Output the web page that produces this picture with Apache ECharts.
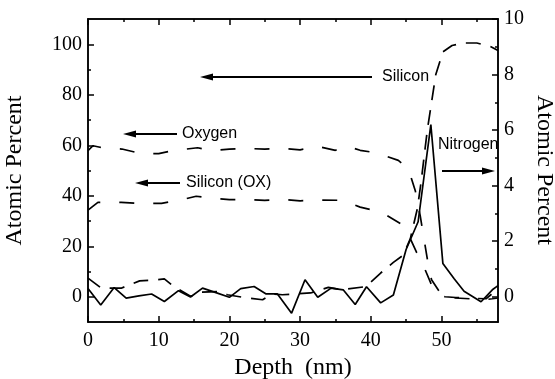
<!DOCTYPE html>
<html><head><meta charset="utf-8">
<script src="https://cdn.jsdelivr.net/npm/echarts@6/dist/echarts.min.js"></script>
<style>html,body{margin:0;padding:0;background:#fff}#c{width:555px;height:379px}</style>
</head><body><div id="c"></div>
<script>
// ---- data ----
const depthTicks = [0, 10, 20, 30, 40, 50];
const depthMinor = [5, 15, 25, 35, 45, 55];
const leftTicks = [0, 20, 40, 60, 80, 100];
const leftMinor = [10, 30, 50, 70, 90];
const rightTicks = [0, 2, 4, 6, 8, 10];
const rightMinor = [1, 3, 5, 7, 9];

// Oxygen (left axis, atomic %)
const oxygen = [[0,57.9],[0.7,59.8],[1.7,59.2],[4.8,58.5],[7.5,56.7],[10,56.7],[12,57.9],[15.5,59],[17.5,57.9],[20,58.5],[22.5,58.7],[25,58.5],[27.5,58.7],[30,58.2],[32.5,59.5],[35,58],[36.8,59.5],[38.5,58],[40.8,57],[43.9,54],[45.3,50.8],[46.3,42],[47,32],[47.6,21.8],[48.1,13.3],[48.6,6.7],[50.2,0],[52,-0.5],[54,-0.8],[56,-1.2],[57.2,-0.8],[58,-0.5]];
// Silicon (OX) (left axis)
const siliconOx = [[0,34.3],[1.4,37.4],[4.7,37.4],[7.3,37],[10.4,37],[12.9,38.2],[15.3,39.8],[17.5,39],[20,38.5],[22.5,38.5],[25,38.2],[27.5,38.5],[30,38],[32.5,38.3],[36,38.2],[38.5,35.5],[41.5,33.5],[44.2,29],[45.6,23],[46.5,17.5],[47.6,11.3],[48.8,3.4],[49.5,1.2],[50.5,0],[52,-0.3],[54,-0.6],[56.3,-0.8],[57.3,1.5],[58,3.5]];
// Silicon (left axis)
const silicon = [[0,7.4],[1.9,3.4],[4.7,3.4],[7.3,6.3],[9.7,6.7],[10.8,7.1],[12.1,4.1],[14.5,0.2],[16,1.8],[18.6,2.1],[19.7,0.8],[22.1,-0.3],[24.7,-1.2],[26,1.1],[27.5,0.8],[29.3,1.1],[31.5,1.5],[34,3.7],[35.9,2.8],[39.3,4],[41.4,9.4],[43.2,13.6],[44.6,16.5],[45.6,23],[46.6,35],[47.1,45],[48,66],[48.6,77],[49.2,88],[50.2,97],[51.5,99.5],[53,100.5],[55,100.5],[57,99],[58,97.5]];
// Nitrogen (right axis)
const nitrogen = [[0,0.3],[1.8,-0.3],[3.7,0.33],[5.4,-0.05],[7.2,0.03],[9,0.1],[10.8,-0.17],[12.8,0.22],[14.5,-0.01],[16.2,0.31],[18.1,0.15],[20,-0.02],[21.6,0.29],[23.5,0.37],[25.2,0.1],[26.8,0.1],[28.8,-0.59],[30.7,0.61],[32.5,-0.02],[34.4,0.31],[36.1,0.25],[37.8,-0.28],[39.4,0.36],[41.4,-0.22],[43.2,0.06],[45,1.7],[46.7,2.7],[48.5,6.2],[50.2,1.2],[51.8,0.65],[53.2,0.2],[55.6,-0.18],[57.2,0.25],[58,0.4]];

// ---- chart ----
const SERIF = "'Liberation Serif','Times New Roman',serif";
const SANS = "'Liberation Sans',Arial,sans-serif";
const BLACK = '#000';
const GRID = {left: 88, right: 57, top: 19, bottom: 57, containLabel: false, outerBoundsMode: 'none'};

function xAx(pos, ticks, len, labels, name) {
  return {
    type: 'value', position: pos, min: 0, max: 58,
    axisLine: {show: true, onZero: false, lineStyle: {color: BLACK, width: 1.5}},
    axisTick: {show: true, inside: true, length: len, customValues: ticks, lineStyle: {color: BLACK, width: 1.5}},
    axisLabel: labels ? {show: true, customValues: ticks, color: BLACK, fontFamily: SERIF, fontSize: 20, margin: 9} : {show: false},
    splitLine: {show: false},
    name: name || '', nameLocation: 'middle', nameGap: 33,
    nameTextStyle: {color: BLACK, fontFamily: SERIF, fontSize: 24}
  };
}
function yAx(pos, min, max, ticks, len, labels, name, opts) {
  return Object.assign({
    type: 'value', position: pos, min: min, max: max,
    axisLine: {show: true, onZero: false, lineStyle: {color: BLACK, width: 1.5}},
    axisTick: {show: true, inside: true, length: len, customValues: ticks, lineStyle: {color: BLACK, width: 1.5}},
    axisLabel: labels ? {show: true, customValues: ticks, color: BLACK, fontFamily: SERIF, fontSize: 20, margin: 6} : {show: false},
    splitLine: {show: false},
    name: name || '', nameLocation: 'middle',
    nameTextStyle: {color: BLACK, fontFamily: SERIF, fontSize: 24}
  }, opts || {});
}

function arrow(x1, x2, y) {
  const dir = x2 > x1 ? 1 : -1;
  return [
    {type: 'line', shape: {x1: x1, y1: y, x2: x2 - dir * 9, y2: y}, style: {stroke: BLACK, lineWidth: 1.8}},
    {type: 'polygon', shape: {points: [[x2, y], [x2 - dir * 13, y - 3.5], [x2 - dir * 13, y + 3.5]]}, style: {fill: BLACK}}
  ];
}
function label(x, y, t) {
  return {type: 'text', x: x, y: y, style: {text: t, fill: BLACK, font: '16px ' + SANS, textVerticalAlign: 'middle', textAlign: 'left'}};
}

const RMIN = -10 / 11;
const chart = echarts.init(document.getElementById('c'), null, {renderer: 'canvas'});
chart.setOption({
  animation: false,
  backgroundColor: '#fff',
  grid: GRID,
  xAxis: [
    xAx('bottom', depthTicks, 6, true, 'Depth  (nm)'),
    xAx('top', depthTicks, 6, false),
    xAx('bottom', depthMinor, 3, false),
    xAx('top', depthMinor, 3, false)
  ],
  yAxis: [
    yAx('left', -10, 110, leftTicks, 6, true, 'Atomic Percent', {nameGap: 61}),
    yAx('right', RMIN, 10, rightTicks, 6, true, ''),
    yAx('left', -10, 110, leftMinor, 3, false),
    yAx('right', RMIN, 10, rightMinor, 3, false)
  ],
  series: [
    {name: 'Oxygen', type: 'line', data: oxygen, xAxisIndex: 0, yAxisIndex: 0, showSymbol: false, lineStyle: {color: BLACK, width: 1.7, type: [15, 19]}},
    {name: 'Silicon (OX)', type: 'line', data: siliconOx, xAxisIndex: 0, yAxisIndex: 0, showSymbol: false, lineStyle: {color: BLACK, width: 1.7, type: [15, 19]}},
    {name: 'Silicon', type: 'line', data: silicon, xAxisIndex: 0, yAxisIndex: 0, showSymbol: false, lineStyle: {color: BLACK, width: 1.7, type: [15, 10]}},
    {name: 'Nitrogen', type: 'line', data: nitrogen, xAxisIndex: 0, yAxisIndex: 1, showSymbol: false, lineStyle: {color: BLACK, width: 1.7}}
  ],
  graphic: [].concat(
    arrow(372, 200, 77), [label(382, 77, 'Silicon')],
    arrow(177, 123, 134), [label(182, 134, 'Oxygen')],
    arrow(180, 135, 183), [label(186, 183, 'Silicon (OX)')],
    [label(438, 145, 'Nitrogen')], arrow(442, 495, 171),
    [{type: 'text', x: 544, y: 170, rotation: -Math.PI / 2,
      style: {text: 'Atomic Percent', fill: BLACK, font: '24px ' + SERIF, textAlign: 'center', textVerticalAlign: 'middle'}}]
  )
});
</script>
</body></html>
